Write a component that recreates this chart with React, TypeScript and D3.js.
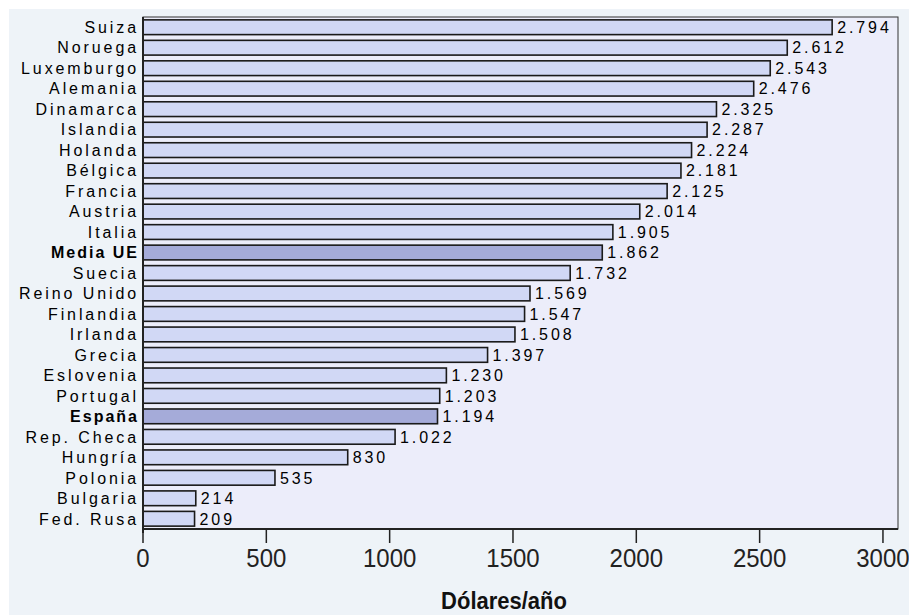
import React from "react";
import * as d3 from "d3";

const countries = ["Suiza","Noruega","Luxemburgo","Alemania","Dinamarca","Islandia","Holanda","Bélgica","Francia","Austria","Italia","Media UE","Suecia","Reino Unido","Finlandia","Irlanda","Grecia","Eslovenia","Portugal","España","Rep. Checa","Hungría","Polonia","Bulgaria","Fed. Rusa"];
const values = [2794,2612,2543,2476,2325,2287,2224,2181,2125,2014,1905,1862,1732,1569,1547,1508,1397,1230,1203,1194,1022,830,535,214,209];
const highlighted = ["Media UE","España"];
const xTicks = [0,500,1000,1500,2000,2500,3000];
const axisTitle = "Dólares/año";

const W = 909, H = 615;
const left = 143, right = 898, top = 17, bottom = 529;

const fmt = d3.formatLocale({ thousands: ".", grouping: [3], decimal: ",", currency: ["", ""] }).format(",d");

export default function App() {
  const x = d3.scaleLinear().domain([0, 3061]).range([left, right]);
  const y = d3.scaleBand<string>().domain(countries).range([top, bottom]).paddingInner(0.28).paddingOuter(0.14);
  const font = "'Liberation Sans', Arial, sans-serif";
  return (
    <svg width={W} height={H} style={{ position: "absolute", left: 0, top: 0 }}>
      <rect x={0} y={0} width={W} height={H} fill="#ffffff" />
      <rect x={9} y={9} width={W - 9} height={H - 9} fill="#eef3f8" />
      <rect x={left} y={top} width={right - left} height={bottom - top} fill="#ecedfa" stroke="#333" strokeWidth={1} />
      {countries.map((c, i) => {
        const hl = highlighted.includes(c);
        const yy = y(c)!;
        return (
          <g key={c}>
            <rect x={x(0)} y={yy} width={x(values[i]) - x(0)} height={y.bandwidth()}
              fill={hl ? "#a5abd9" : "#d1d8f5"} stroke="#1a1a1a" strokeWidth={1.6} />
            <text x={139} y={yy + y.bandwidth() / 2} dy="0.36em" textAnchor="end"
              fontFamily={font} fontSize={16} fontWeight={hl ? "bold" : "normal"}
              letterSpacing={hl ? 2.0 : 2.9} fill="#000">{c}</text>
            <text x={x(values[i]) + 5} y={yy + y.bandwidth() / 2} dy="0.36em"
              fontFamily={font} fontSize={16} letterSpacing={2.9} fill="#000">{fmt(values[i])}</text>
          </g>
        );
      })}
      <line x1={left} x2={left} y1={top} y2={bottom + 4} stroke="#222" strokeWidth={2} />
      <line x1={left} x2={right} y1={bottom} y2={bottom} stroke="#222" strokeWidth={2} />
      {xTicks.map(t => (
        <g key={t}>
          <line x1={x(t)} x2={x(t)} y1={bottom} y2={bottom + 14} stroke="#222" strokeWidth={1.5} />
          <text x={x(t)} y={567} textAnchor="middle" fontFamily={font} fontSize={24} fill="#222"
            transform={`translate(0,${567}) scale(1,1.08) translate(0,${-567})`}>{t}</text>
        </g>
      ))}
      <text x={504} y={609} textAnchor="middle" fontFamily={font} fontSize={22} fontWeight="bold" fill="#111"
        transform={`translate(0,609) scale(1,1.08) translate(0,-609)`}>{axisTitle}</text>
    </svg>
  );
}
